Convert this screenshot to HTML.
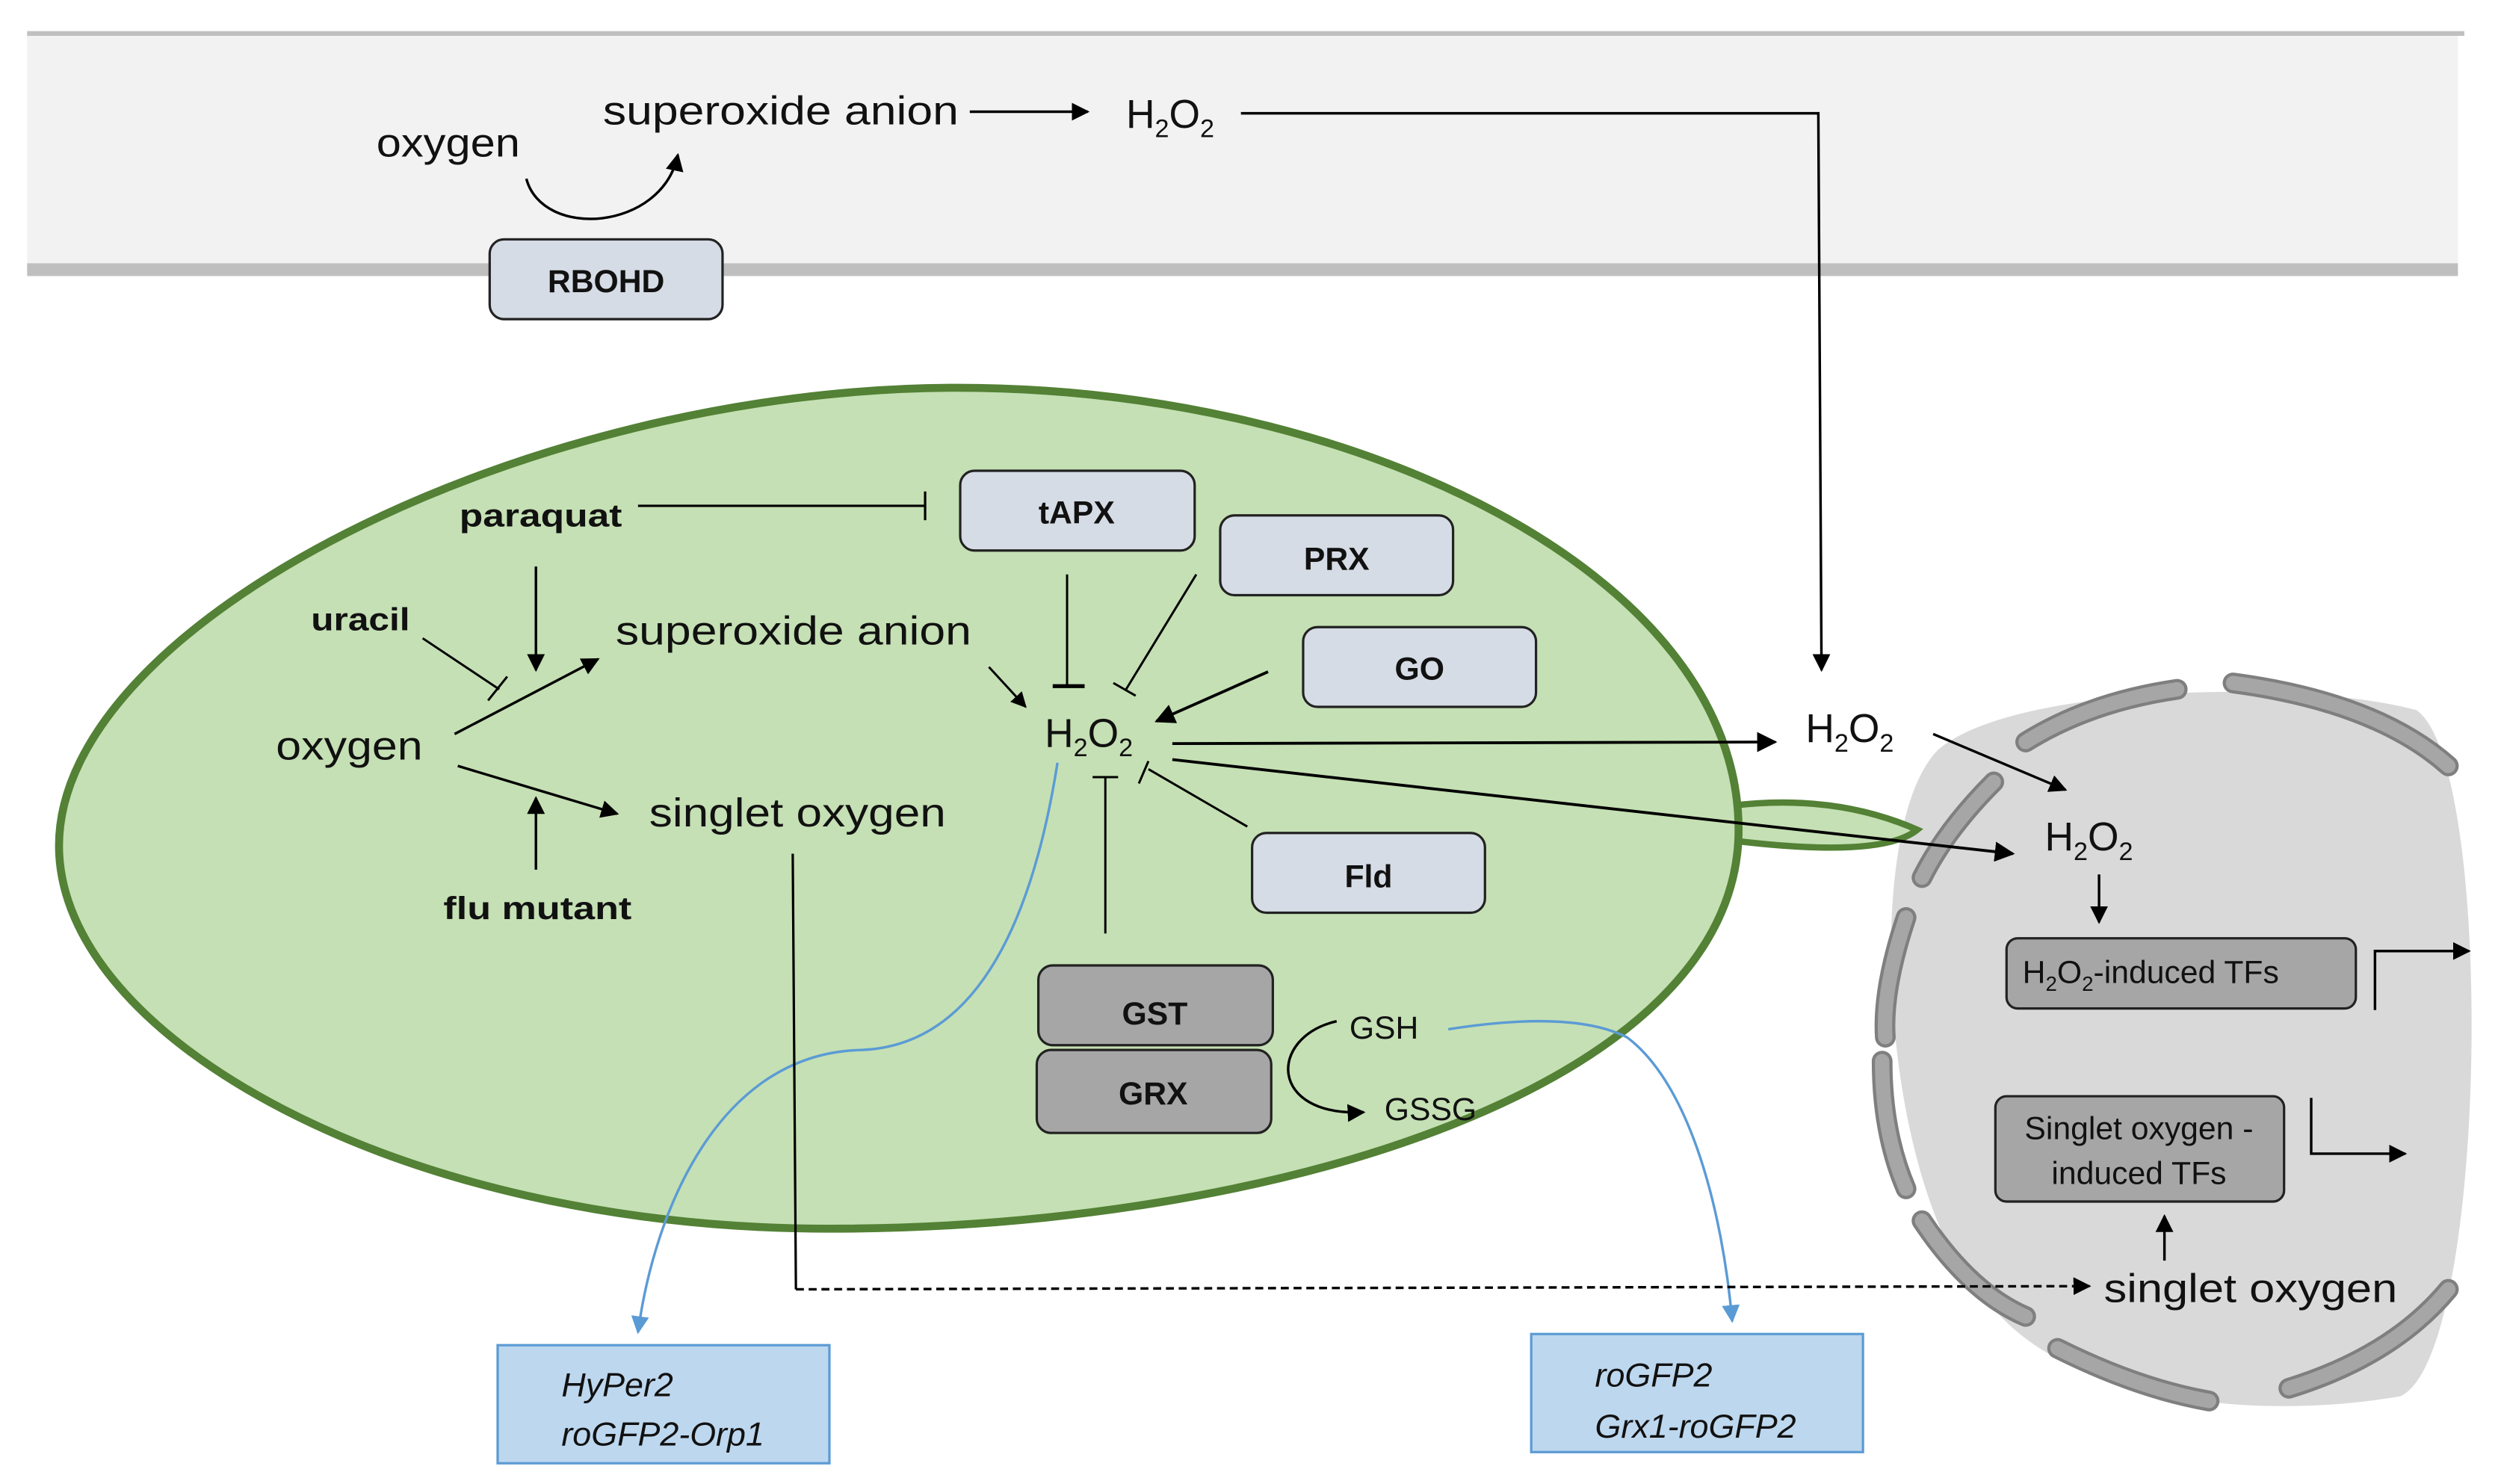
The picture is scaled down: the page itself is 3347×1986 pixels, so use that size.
<!DOCTYPE html>
<html><head><meta charset="utf-8"><style>
html,body{margin:0;padding:0;background:#fff;}
svg{display:block;}
text{font-family:"Liberation Sans",sans-serif;fill:#111;}
</style></head><body>
<svg width="3347" height="1986" viewBox="0 0 1568 930" preserveAspectRatio="none" xmlns="http://www.w3.org/2000/svg">
<defs>
<marker id="a" viewBox="0 0 10 10" refX="9" refY="5" markerWidth="7" markerHeight="7" orient="auto-start-reverse"><path d="M0,0 L10,5 L0,10 z" fill="#000"/></marker>
<marker id="b" viewBox="0 0 10 10" refX="9" refY="5" markerWidth="7" markerHeight="7" orient="auto"><path d="M0,0 L10,5 L0,10 z" fill="#5b9bd5"/></marker>
</defs>
<rect x="17" y="22" width="1524" height="146" fill="#f2f2f2"/>
<line x1="17" y1="21" x2="1545" y2="21" stroke="#c0c0c0" stroke-width="3"/>
<rect x="17" y="165" width="1524" height="8" fill="#bfbfbf"/>
<text x="236" y="98" font-size="25" textLength="90" lengthAdjust="spacingAndGlyphs">oxygen</text>
<text x="378" y="78" font-size="25" textLength="223" lengthAdjust="spacingAndGlyphs">superoxide anion</text>
<line x1="608" y1="70" x2="682" y2="70" stroke="#000" stroke-width="1.6" marker-end="url(#a)"/>
<text x="706" y="80" font-size="25">H<tspan font-size="16" dy="6">2</tspan><tspan dy="-6">O</tspan><tspan font-size="16" dy="6">2</tspan></text>
<polyline points="778,71 1140,71 1142,420" fill="none" stroke="#000" stroke-width="1.6" marker-end="url(#a)"/>
<path d="M330,112 C340,150 415,145 425,97" fill="none" stroke="#000" stroke-width="1.6" marker-end="url(#a)"/>
<rect x="307" y="150" width="146" height="50" rx="9" fill="#d6dce5" stroke="#222" stroke-width="1.5"/>
<text x="380" y="183" font-size="20" font-weight="bold" text-anchor="middle">RBOHD</text>
<path d="M1215,470 C1260,430 1440,425 1515,445 C1565,480 1560,850 1505,875 C1420,890 1300,880 1250,820 C1180,760 1165,520 1215,470 Z" fill="#d9d9d9"/>
<g fill="none" stroke="#7f7f7f" stroke-width="13" stroke-linecap="round">
<path d="M1270,465 Q1310,440 1365,432"/><path d="M1400,428 Q1490,440 1535,480"/><path d="M1250,490 Q1220,520 1205,550"/><path d="M1195,575 Q1180,620 1182,650"/><path d="M1180,665 Q1180,710 1195,745"/><path d="M1205,765 Q1235,810 1270,825"/><path d="M1290,845 Q1340,870 1385,878"/><path d="M1435,870 Q1500,850 1535,808"/>
</g>
<g fill="none" stroke="#a6a6a6" stroke-width="9" stroke-linecap="round">
<path d="M1270,465 Q1310,440 1365,432"/><path d="M1400,428 Q1490,440 1535,480"/><path d="M1250,490 Q1220,520 1205,550"/><path d="M1195,575 Q1180,620 1182,650"/><path d="M1180,665 Q1180,710 1195,745"/><path d="M1205,765 Q1235,810 1270,825"/><path d="M1290,845 Q1340,870 1385,878"/><path d="M1435,870 Q1500,850 1535,808"/>
</g>
<path d="M1085,505 Q1150,497 1202,520 Q1180,538 1088,527 Z" fill="#c5e0b4" stroke="#538135" stroke-width="4"/>
<path d="M600,243 C850,243 1090,360 1090,520 C1090,680 800,770 520,770 C250,770 37,650 37,530 C37,390 330,243 600,243 Z" fill="#c5e0b4" stroke="#538135" stroke-width="5"/>
<text x="288" y="330" font-size="20" font-weight="bold" textLength="102" lengthAdjust="spacingAndGlyphs">paraquat</text>
<line x1="400" y1="317" x2="580" y2="317" stroke="#000" stroke-width="1.5"/>
<line x1="580" y1="308" x2="580" y2="326" stroke="#000" stroke-width="1.5"/>
<line x1="336" y1="355" x2="336" y2="420" stroke="#000" stroke-width="1.6" marker-end="url(#a)"/>
<text x="195" y="395" font-size="20" font-weight="bold" textLength="62" lengthAdjust="spacingAndGlyphs">uracil</text>
<line x1="265" y1="400" x2="313" y2="432" stroke="#000" stroke-width="1.4"/>
<line x1="306" y1="439" x2="318" y2="424" stroke="#000" stroke-width="1.4"/>
<text x="386" y="404" font-size="25" textLength="223" lengthAdjust="spacingAndGlyphs">superoxide anion</text>
<text x="173" y="476" font-size="25" textLength="92" lengthAdjust="spacingAndGlyphs">oxygen</text>
<line x1="285" y1="460" x2="375" y2="413" stroke="#000" stroke-width="1.6" marker-end="url(#a)"/>
<line x1="287" y1="480" x2="387" y2="510" stroke="#000" stroke-width="1.6" marker-end="url(#a)"/>
<line x1="336" y1="545" x2="336" y2="500" stroke="#000" stroke-width="1.6" marker-end="url(#a)"/>
<text x="278" y="576" font-size="20" font-weight="bold" textLength="118" lengthAdjust="spacingAndGlyphs">flu mutant</text>
<text x="407" y="518" font-size="25" textLength="186" lengthAdjust="spacingAndGlyphs">singlet oxygen</text>
<text x="655" y="468" font-size="25">H<tspan font-size="16" dy="6">2</tspan><tspan dy="-6">O</tspan><tspan font-size="16" dy="6">2</tspan></text>
<line x1="620" y1="418" x2="643" y2="443" stroke="#000" stroke-width="1.4" marker-end="url(#a)"/>
<rect x="602" y="295" width="147" height="50" rx="9" fill="#d6dce5" stroke="#222" stroke-width="1.5"/>
<text x="675" y="328" font-size="20" font-weight="bold" text-anchor="middle">tAPX</text>
<line x1="669" y1="360" x2="669" y2="430" stroke="#000" stroke-width="1.4"/>
<line x1="660" y1="430" x2="680" y2="430" stroke="#000" stroke-width="2.5"/>
<rect x="765" y="323" width="146" height="50" rx="9" fill="#d6dce5" stroke="#222" stroke-width="1.5"/>
<text x="838" y="357" font-size="20" font-weight="bold" text-anchor="middle">PRX</text>
<line x1="750" y1="360" x2="706" y2="432" stroke="#000" stroke-width="1.4"/>
<line x1="698" y1="428" x2="712" y2="436" stroke="#000" stroke-width="1.4"/>
<rect x="817" y="393" width="146" height="50" rx="9" fill="#d6dce5" stroke="#222" stroke-width="1.5"/>
<text x="890" y="426" font-size="20" font-weight="bold" text-anchor="middle">GO</text>
<line x1="795" y1="421" x2="725" y2="452" stroke="#000" stroke-width="1.8" marker-end="url(#a)"/>
<rect x="785" y="522" width="146" height="50" rx="9" fill="#d6dce5" stroke="#222" stroke-width="1.5"/>
<text x="858" y="556" font-size="20" font-weight="bold" text-anchor="middle">Fld</text>
<line x1="782" y1="518" x2="720" y2="482" stroke="#000" stroke-width="1.4"/>
<line x1="714" y1="491" x2="720" y2="477" stroke="#000" stroke-width="1.4"/>
<line x1="693" y1="585" x2="693" y2="487" stroke="#000" stroke-width="1.4"/>
<line x1="685" y1="487" x2="701" y2="487" stroke="#000" stroke-width="1.4"/>
<line x1="735" y1="466" x2="1113" y2="465" stroke="#000" stroke-width="1.8" marker-end="url(#a)"/>
<line x1="735" y1="476" x2="1262" y2="535" stroke="#000" stroke-width="1.8" marker-end="url(#a)"/>
<rect x="651" y="605" width="147" height="50" rx="9" fill="#a6a6a6" stroke="#222" stroke-width="1.5"/>
<text x="724" y="642" font-size="20" font-weight="bold" text-anchor="middle">GST</text>
<rect x="650" y="658" width="147" height="52" rx="9" fill="#a6a6a6" stroke="#222" stroke-width="1.5"/>
<text x="723" y="692" font-size="20" font-weight="bold" text-anchor="middle">GRX</text>
<text x="846" y="651" font-size="20">GSH</text>
<text x="868" y="702" font-size="20">GSSG</text>
<path d="M838,640 C795,650 795,700 855,697" fill="none" stroke="#000" stroke-width="1.6" marker-end="url(#a)"/>
<path d="M663,478 C650,560 620,655 540,658 C450,660 410,760 400,835" fill="none" stroke="#5b9bd5" stroke-width="1.6" marker-end="url(#b)"/>
<path d="M908,645 C940,640 990,635 1020,650 C1060,680 1080,760 1086,828" fill="none" stroke="#5b9bd5" stroke-width="1.6" marker-end="url(#b)"/>
<line x1="497" y1="535" x2="499" y2="808" stroke="#000" stroke-width="1.5"/>
<line x1="499" y1="808" x2="1310" y2="806" stroke="#000" stroke-width="1.6" stroke-dasharray="5,3" marker-end="url(#a)"/>
<text x="1132" y="465" font-size="25">H<tspan font-size="16" dy="6">2</tspan><tspan dy="-6">O</tspan><tspan font-size="16" dy="6">2</tspan></text>
<line x1="1212" y1="460" x2="1295" y2="495" stroke="#000" stroke-width="1.6" marker-end="url(#a)"/>
<text x="1282" y="533" font-size="25">H<tspan font-size="16" dy="6">2</tspan><tspan dy="-6">O</tspan><tspan font-size="16" dy="6">2</tspan></text>
<line x1="1316" y1="548" x2="1316" y2="578" stroke="#000" stroke-width="1.6" marker-end="url(#a)"/>
<rect x="1258" y="588" width="219" height="44" rx="7" fill="#a6a6a6" stroke="#222" stroke-width="1.5"/>
<text x="1268" y="616" font-size="20">H<tspan font-size="13" dy="5">2</tspan><tspan dy="-5">O</tspan><tspan font-size="13" dy="5">2</tspan><tspan dy="-5">-induced TFs</tspan></text>
<polyline points="1489,633 1489,596 1548,596" fill="none" stroke="#000" stroke-width="1.6" marker-end="url(#a)"/>
<rect x="1251" y="687" width="181" height="66" rx="7" fill="#a6a6a6" stroke="#222" stroke-width="1.5"/>
<text x="1341" y="714" font-size="20" text-anchor="middle">Singlet oxygen -</text>
<text x="1341" y="742" font-size="20" text-anchor="middle">induced TFs</text>
<polyline points="1449,688 1449,723 1508,723" fill="none" stroke="#000" stroke-width="1.6" marker-end="url(#a)"/>
<line x1="1357" y1="790" x2="1357" y2="762" stroke="#000" stroke-width="1.6" marker-end="url(#a)"/>
<text x="1319" y="816" font-size="25" textLength="184" lengthAdjust="spacingAndGlyphs">singlet oxygen</text>
<rect x="312" y="843" width="208" height="74" fill="#bdd7ee" stroke="#5b9bd5" stroke-width="1.5"/>
<text x="352" y="875" font-size="21" font-style="italic">HyPer2</text>
<text x="352" y="906" font-size="21" font-style="italic">roGFP2-Orp1</text>
<rect x="960" y="836" width="208" height="74" fill="#bdd7ee" stroke="#5b9bd5" stroke-width="1.5"/>
<text x="1000" y="869" font-size="21" font-style="italic">roGFP2</text>
<text x="1000" y="901" font-size="21" font-style="italic">Grx1-roGFP2</text>
</svg>
</body></html>
